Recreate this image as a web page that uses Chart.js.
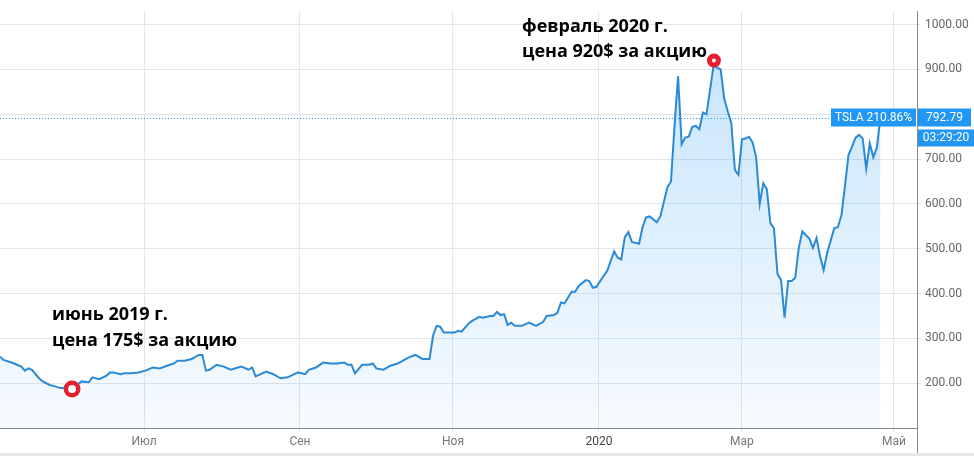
<!DOCTYPE html>
<html>
<head>
    <meta charset="utf-8">
    <title>TSLA</title>
    <script src="https://cdn.jsdelivr.net/npm/chart.js"></script>
    <style>
        html, body { margin: 0; padding: 0; background: #fff; }
        #chartContainer { width: 974px; height: 456px; }
    </style>
</head>
<body>

<div id="chartContainer">
    <canvas id="myChart" width="974" height="456"></canvas>
</div>

<script>
    // индекс торгового дня и цена закрытия
    const days = [0, 1, 4, 6, 7, 8, 9, 11, 12, 14, 15, 17, 18, 20, 22, 23, 25, 26, 28, 30,
        31, 32, 34, 35, 37, 39, 41, 43, 45, 47, 49, 50, 52, 54, 56, 57, 58, 59, 61, 63,
        65, 67, 68, 70, 71, 72, 75, 77, 79, 81, 84, 86, 87, 89, 91, 93, 95, 97, 98, 99,
        100, 102, 104, 105, 106, 108, 110, 112, 113, 115, 117, 119, 121, 122, 123, 124, 125, 128, 129, 130,
        132, 133, 135, 136, 138, 139, 140, 141, 142, 143, 144, 145, 147, 149, 151, 153, 154, 156, 157, 158,
        159, 161, 162, 163, 165, 166, 167, 168, 170, 171, 173, 174, 175, 176, 177, 178, 180, 181, 182, 183,
        185, 186, 188, 189, 190, 191, 192, 193, 194, 195, 196, 197, 198, 199, 201, 202, 203, 204, 205, 206,
        207, 208, 209, 210, 211, 212, 213, 214, 215, 216, 217, 218, 219, 220, 221, 222, 223, 224, 225, 226,
        228, 229, 230, 231, 232, 233, 235, 236, 237, 238, 239, 240, 241, 242, 243, 244, 245, 246, 247, 248];
    const prices = [259, 252, 244, 237, 228, 233, 230, 211, 204, 196, 194, 189, 189, 185, 198, 204, 202, 213, 209, 217,
        224, 224, 220, 222, 222, 224, 228, 235, 233, 239, 244, 250, 250, 254, 263, 263, 228, 230, 241, 237,
        230, 235, 237, 230, 235, 215, 226, 220, 211, 213, 224, 220, 230, 235, 246, 244, 244, 246, 241, 241,
        222, 241, 241, 244, 233, 230, 239, 244, 248, 257, 263, 254, 254, 307, 328, 326, 313, 313, 317, 315,
        333, 339, 348, 346, 350, 350, 359, 352, 354, 330, 335, 328, 328, 335, 328, 337, 350, 352, 357, 380,
        378, 404, 404, 417, 430, 428, 413, 415, 439, 450, 494, 480, 476, 526, 537, 515, 511, 548, 570, 572,
        559, 572, 637, 650, 774, 885, 733, 748, 750, 772, 774, 767, 804, 800, 909, 904, 900, 835, 806, 780,
        676, 665, 744, 746, 750, 737, 704, 600, 646, 633, 557, 546, 444, 430, 346, 428, 428, 435, 502, 539,
        522, 502, 524, 483, 452, 491, 546, 548, 574, 639, 709, 728, 748, 754, 746, 678, 735, 704, 726, 792.79];

    const monthTicks = [40.6, 84.5, 127.6, 168.7, 209, 251.8];
    const monthLabels = ['Июл', 'Сен', 'Ноя', '2020', 'Мар', 'Май'];
    const priceTicks = [200, 300, 400, 500, 600, 700, 800, 900, 1000];

    // отметки на графике
    const markDays = [20.3, 201.1];
    const markPrices = [187, 920];
    const notes = [
        ['июнь 2019 г.', 'цена 175$ за акцию'],
        ['февраль 2020 г.', 'цена 920$ за акцию']
    ];

    const lastPrice = 792.79;
    const lastLabel = 'TSLA 210.86%';
    const lastTime = '03:29:20';

    const blue = '#2196f3';

    const overlay = {
        id: 'overlay',
        beforeDatasetsDraw(chart) {
            const c = chart.ctx;
            const area = chart.chartArea;
            const y = Math.round(chart.scales.y.getPixelForValue(lastPrice)) + 0.5;
            c.save();
            c.strokeStyle = blue;
            c.lineWidth = 1;
            c.setLineDash([1, 2]);
            c.beginPath();
            c.moveTo(area.left, y);
            c.lineTo(area.right, y);
            c.stroke();
            c.restore();
        },
        afterDraw(chart) {
            const c = chart.ctx;
            const area = chart.chartArea;
            const y = chart.scales.y.getPixelForValue(lastPrice);
            c.save();

            // продолжение оси цен вниз и нижняя рамка
            c.strokeStyle = '#888';
            c.lineWidth = 1;
            c.beginPath();
            c.moveTo(area.right + 0.5, area.bottom);
            c.lineTo(area.right + 0.5, chart.height);
            c.stroke();
            c.fillStyle = '#e8e8e8';
            c.fillRect(0, chart.height - 3, chart.width, 3);

            // плашки последней цены
            c.font = '12px Roboto';
            c.textAlign = 'center';
            c.textBaseline = 'middle';
            c.fillStyle = blue;
            c.fillRect(831, y - 9, 85, 18);
            c.fillRect(area.right + 1, y - 9, 53, 18);
            c.fillRect(area.right + 1, y + 12, chart.width - area.right - 1, 17);
            c.fillStyle = '#fff';
            c.fillText(lastLabel, 873.5, y);
            c.fillText(lastPrice.toFixed(2), area.right + 27.5, y);
            c.fillText(lastTime, area.right + 29, y + 20.5);

            // подписи
            c.font = 'bold 18px "Open Sans"';
            c.textAlign = 'left';
            c.fillStyle = '#000';
            c.fillText(notes[0][0], 52, 315);
            c.fillText(notes[0][1], 52, 341);
            c.fillText(notes[1][0], 522, 27);
            c.fillText(notes[1][1], 522, 52);
            c.restore();
        }
    };

    const config = {
        type: 'line',
        data: {
            datasets: [{
                type: 'scatter',
                data: markDays.map((d, i) => ({ x: d, y: markPrices[i] })),
                pointStyle: 'circle',
                pointRadius: [6.2, 4.5],
                pointBorderWidth: [4.5, 5],
                pointBorderColor: '#e3202e',
                pointBackgroundColor: '#fff',
                order: 0
            }, {
                data: days.map((d, i) => ({ x: d, y: prices[i] })),
                borderColor: '#2b8ad6',
                borderWidth: 2,
                pointRadius: 0,
                tension: 0,
                fill: 'start',
                backgroundColor: function (ctx) {
                    const area = ctx.chart.chartArea;
                    if (!area) return 'rgba(33,150,243,0.1)';
                    const g = ctx.chart.ctx.createLinearGradient(0, area.top, 0, area.bottom);
                    g.addColorStop(0, 'rgba(33,150,243,0.27)');
                    g.addColorStop(1, 'rgba(33,150,243,0.04)');
                    return g;
                },
                order: 1
            }]
        },
        options: {
            responsive: false,
            animation: false,
            layout: { padding: 0, autoPadding: false },
            plugins: {
                legend: { display: false },
                tooltip: { enabled: false }
            },
            scales: {
                x: {
                    type: 'linear',
                    min: 0,
                    max: 258.3,
                    afterBuildTicks: s => { s.ticks = monthTicks.map(v => ({ value: v })); },
                    afterFit: s => { s.height = 28; },
                    grid: { color: '#e3e6ec', tickLength: 4 },
                    border: { color: '#888' },
                    ticks: {
                        autoSkip: false,
                        maxRotation: 0,
                        padding: 3,
                        color: ctx => monthLabels[ctx.index] === '2020' ? '#444' : '#777',
                        font: { family: 'Roboto', size: 12 },
                        callback: (v, i) => monthLabels[i]
                    }
                },
                y: {
                    position: 'right',
                    min: 100,
                    max: 1030,
                    afterBuildTicks: s => { s.ticks = priceTicks.map(v => ({ value: v })); },
                    afterFit: s => { s.width = 57; },
                    grid: { color: '#e3e6ec', tickLength: 4 },
                    border: { color: '#888' },
                    ticks: {
                        padding: 4,
                        color: '#666',
                        font: { family: 'Roboto', size: 12 },
                        // подпись под плашкой цены не показываем
                        callback: v => Math.abs(v - lastPrice) < 20 ? '' : v.toFixed(2)
                    }
                }
            }
        },
        plugins: [overlay]
    };

    const myChart = new Chart(document.getElementById('myChart'), config);
</script>

</body>
</html>
